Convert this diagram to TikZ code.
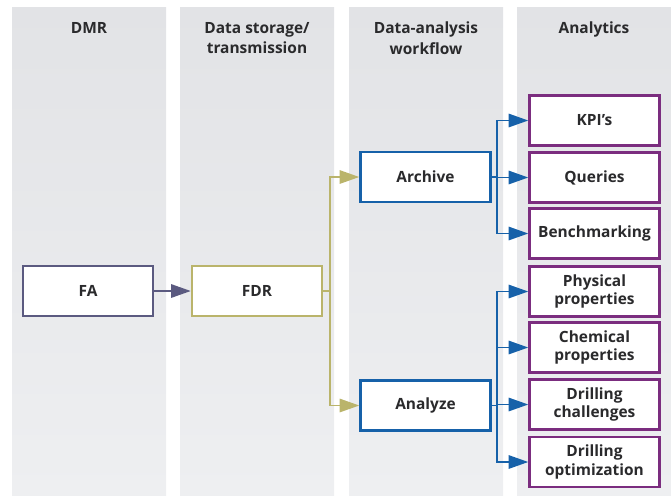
\documentclass[tikz,border=0pt]{standalone}
\usepackage{fontspec}
\setmainfont{Open Sans}
\usetikzlibrary{arrows.meta,positioning}
\definecolor{panelgray}{HTML}{E2E3E6}
\definecolor{panellight}{HTML}{FAFAFA}
\definecolor{panelbottom}{HTML}{EEEFF1}
\definecolor{txtdark}{HTML}{2A2A2C}
\definecolor{famauve}{HTML}{5B5A80}
\definecolor{fdrkhaki}{HTML}{BAB46B}
\definecolor{wfblue}{HTML}{1661A9}
\definecolor{anpurple}{HTML}{7B2D7F}
\tikzset{
    box/.style={draw,fill=white,line width=1.7pt,minimum width=3.25cm,minimum height=1.25cm,
        inner sep=0pt,align=center,text=txtdark,font=\fontsize{11}{13}\selectfont\bfseries},
    head/.style={anchor=north,align=center,text=txtdark,font=\fontsize{11}{14.8}\selectfont\bfseries},
    link/.style={line width=1.4pt,-{Triangle[length=14pt,width=9.5pt]}}
}

\begin{document}
\begin{tikzpicture}[x=0.025cm,y=-0.025cm]
    \useasboundingbox (0,0) rectangle (671,495);
    \foreach \x in {12,180,349,517}
    \shade[top color=panelgray,middle color=panellight,bottom color=panelbottom] (\x,7) rectangle (\x+154,495);
    \node[head] (hdmr) at (89,17) {DMR};
    \node[head] (hdata) at (257,17) {Data storage/\\transmission};
    \node[head] (hflow) at (426,17) {Data-analysis\\workflow};
    \node[head] (hana) at (594,17) {Analytics};

    \node[box,draw=famauve] (fa) at (88,291) {FA};
    \node[box,draw=fdrkhaki] (fdr) at (257,291) {FDR};
    \node[box,draw=wfblue] (archive) at (425.5,177) {Archive};
    \node[box,draw=wfblue] (analyze) at (425.5,405.5) {Analyze};

    \node[box,draw=anpurple] (kpi) at (594.5,120.5) {KPI’s};
    \node[box,draw=anpurple] (queries) at (594.5,177.5) {Queries};
    \node[box,draw=anpurple] (bench) at (594.5,233.5) {Benchmarking};
    \node[box,draw=anpurple] (phys) at (594.5,291.5) {Physical\\properties};
    \node[box,draw=anpurple] (chem) at (594.5,347.5) {Chemical\\properties};
    \node[box,draw=anpurple] (drchal) at (594.5,404.5) {Drilling\\challenges};
    \node[box,draw=anpurple] (dropt) at (594.5,462) {Drilling\\optimization};

    \coordinate (ysplit) at (330,291);
    \coordinate (bsplitA) at (497,177);
    \coordinate (bsplitB) at (497,405.5);

    \draw[link,famauve] (fa) -- (fdr);
    \draw[line width=1.4pt,fdrkhaki] (fdr.east) -- (ysplit);
    \draw[link,fdrkhaki] (ysplit) |- (archive.west);
    \draw[link,fdrkhaki] (ysplit) |- (analyze.west);
    \draw[line width=1.4pt,wfblue] (archive.east) -- (bsplitA);
    \draw[line width=1.4pt,wfblue] (analyze.east) -- (bsplitB);
    \foreach \n in {kpi,queries,bench}
    \draw[link,wfblue] (bsplitA) |- (\n.west);
    \foreach \n in {phys,chem,drchal,dropt}
    \draw[link,wfblue] (bsplitB) |- (\n.west);
\end{tikzpicture}
\end{document}
